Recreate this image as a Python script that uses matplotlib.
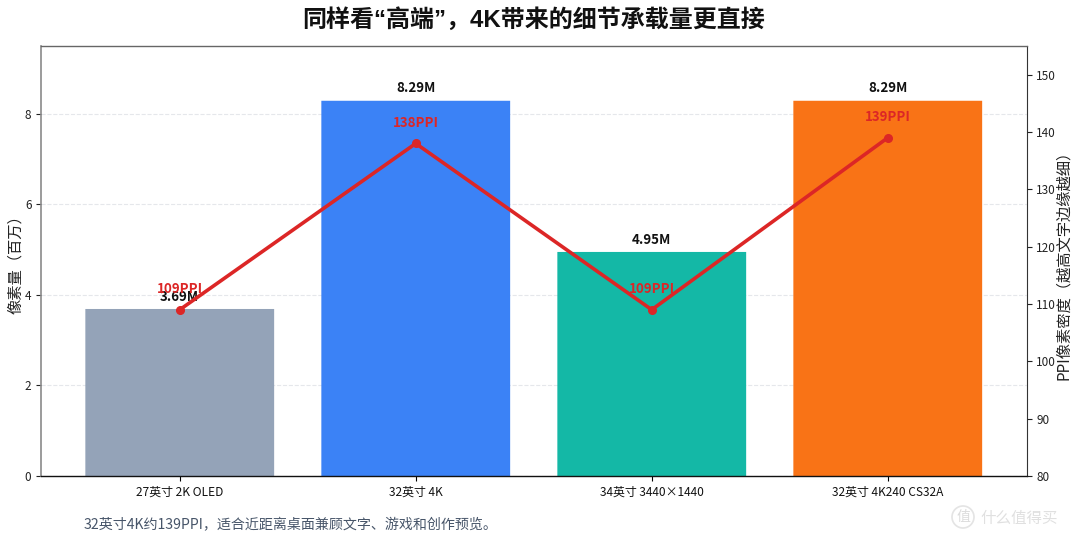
import matplotlib
matplotlib.use("Agg")
import matplotlib.pyplot as plt
from matplotlib.patches import Circle
from matplotlib.transforms import Affine2D

plt.rcParams['font.family'] = ['Noto Sans CJK SC', 'DejaVu Sans']

categories = ['27英寸 2K OLED', '32英寸 4K', '34英寸 3440×1440', '32英寸 4K240 CS32A']
pixels_m = [3.69, 8.29, 4.95, 8.29]
ppi = [109, 138, 109, 139]
bar_colors = ['#94A3B8', '#3B82F6', '#14B8A6', '#F97316']
left_ticks = [0, 2, 4, 6, 8]
right_ticks = [80, 90, 100, 110, 120, 130, 140, 150]

fig = plt.figure(figsize=(10.8, 5.4), dpi=100, facecolor='white')
ax = fig.add_axes([40.5 / 1080, 1 - 476 / 540, (1027 - 40.5) / 1080, 430 / 540])

xs = list(range(len(categories)))
ax.bar(xs, pixels_m, width=0.8, color=bar_colors, linewidth=0, snap=False, zorder=2)
ax.set_xlim(-0.59, 3.59)
ax.set_ylim(0, 9.5)
ax.set_xticks(xs)
ax.set_xticklabels(categories, fontsize=8.6, color='#111111')
ax.set_yticks(left_ticks)
ax.tick_params(axis='y', labelsize=8.5, length=3.5, width=0.8, pad=3, colors='#222222')
ax.tick_params(axis='x', length=3.5, width=0.8, pad=3.5)
ax.set_ylabel('像素量（百万）', fontsize=11, color='#222222')
ax.yaxis.set_label_coords(-16 / 986.5, 0.5)
ax.yaxis.grid(True, linestyle='--', color='#E5E7EB', linewidth=0.8, zorder=0)
ax.set_axisbelow(True)

ax.spines['left'].set_color('#8A8A8A')
ax.spines['left'].set_linewidth(1.2)
ax.spines['top'].set_color('#666666')
ax.spines['top'].set_linewidth(1.0)
ax.spines['right'].set_color('#333333')
ax.spines['bottom'].set_color('#111111')
ax.spines['bottom'].set_linewidth(1.0)

for x, v in zip(xs, pixels_m):
    ax.text(x, v + 0.12, f'{v:.2f}M', ha='center', va='bottom', fontsize=9.6,
            fontweight='bold', color='#111111', zorder=6)

ax2 = ax.twinx()
ax2.set_ylim(80, 155)
ax2.set_yticks(right_ticks)
ax2.tick_params(axis='y', labelsize=8.5, length=3.5, width=0.8, pad=3, colors='#222222')
ax2.set_ylabel('PPI像素密度（越高文字边缘越细）', fontsize=11, color='#222222')
ax2.yaxis.set_label_coords(1 + 28 / 986.5, 0.5)
ax2.plot(xs, ppi, color='#DC2626', linewidth=2.6, marker='o', markersize=5.5, zorder=5)
for side in ax2.spines.values():
    side.set_visible(False)

for x, v in zip(xs, ppi):
    ax2.text(x, v + 2.4, f'{v}PPI', ha='center', va='bottom', fontsize=9.6,
             fontweight='bold', color='#DC2626', zorder=7)

fig.text(534 / 1080, 1 - 20 / 540, '同样看“高端”，4K带来的细节承载量更直接', ha='center', va='center',
         fontsize=17.3, fontweight='bold', color='#111111',
         family=['Liberation Sans', 'Noto Sans CJK SC'])
fig.text(84 / 1080, 1 - 525 / 540, '32英寸4K约139PPI，适合近距离桌面兼顾文字、游戏和创作预览。',
         ha='left', va='center', fontsize=10.1, color='#475569')

# Site mark in the lower right corner
badge = Circle((963, 517), 11, fill=False, edgecolor='#E4E4E4', linewidth=1.2,
               transform=Affine2D().scale(1, -1).translate(0, 540))
fig.add_artist(badge)
fig.text(963 / 1080, 1 - 517 / 540, '值', ha='center', va='center', fontsize=10, color='#DCDCDC')
fig.text(1019.5 / 1080, 1 - 518 / 540, '什么值得买', ha='center', va='center', fontsize=11.2, color='#E0E0E0')

fig.savefig('out.png', dpi=100)
